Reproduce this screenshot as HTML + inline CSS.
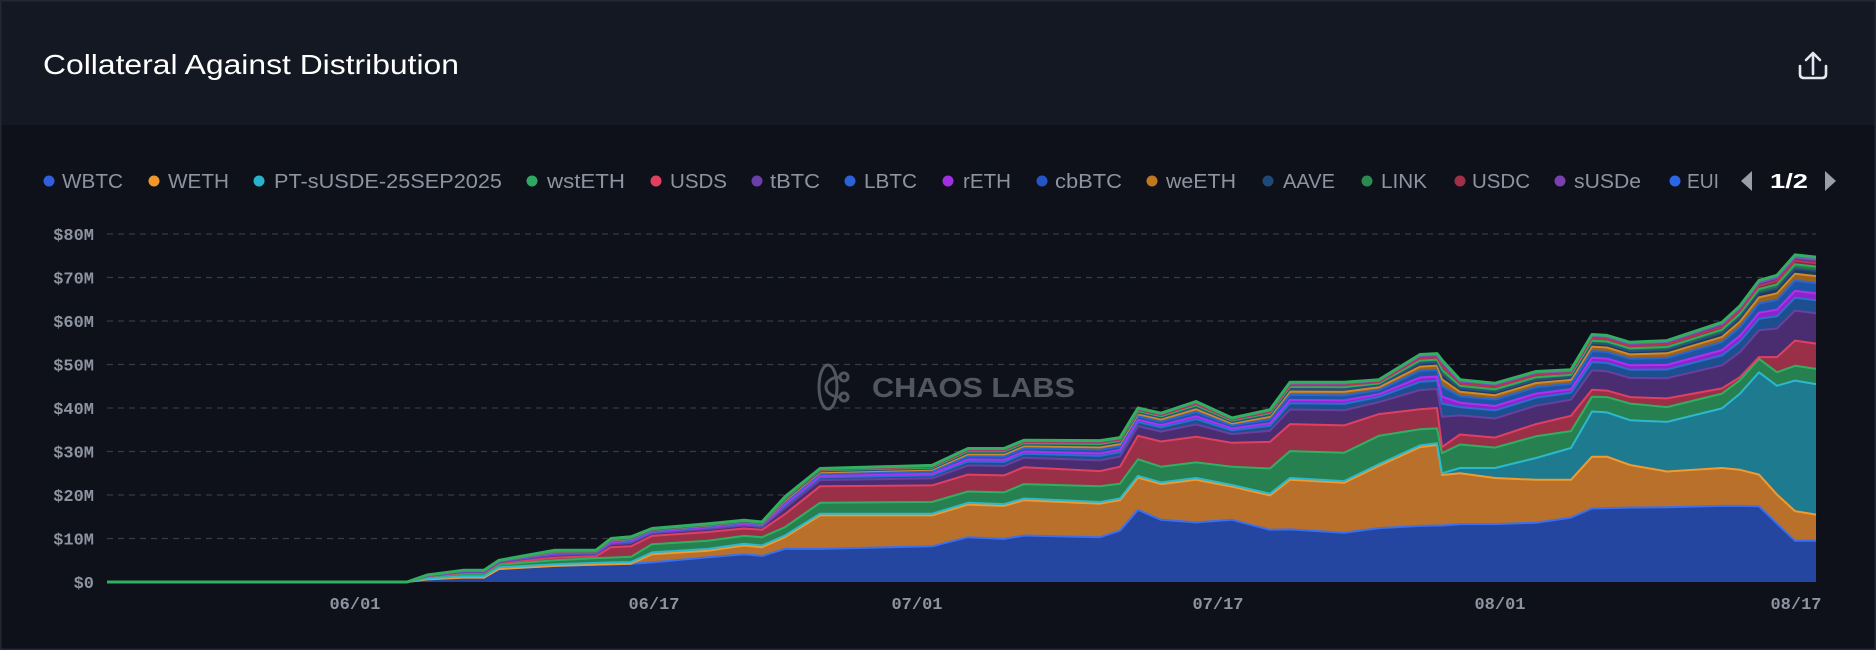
<!DOCTYPE html>
<html><head><meta charset="utf-8"><style>
html,body{margin:0;padding:0;background:#0e1119;}
svg{display:block}
</style></head><body>
<svg id="s" width="1876" height="650" viewBox="0 0 1876 650" xmlns="http://www.w3.org/2000/svg">
<rect x="0" y="0" width="1876" height="650" fill="#0e1119"/>
<rect x="0" y="0" width="1876" height="125" fill="#141822"/>
<rect x="0.5" y="0.5" width="1875" height="649" fill="none" stroke="#232833" stroke-width="2"/>
<text x="43" y="74" font-family="Liberation Sans, sans-serif" font-size="28" fill="#ffffff" textLength="416" lengthAdjust="spacingAndGlyphs">Collateral Against Distribution</text>
<g fill="none" stroke="#e6e8ec" stroke-width="2.6" stroke-linecap="round" stroke-linejoin="round">
<path d="M1813 74 V53 M1806 60 L1813 53 L1820 60"/>
<path d="M1800 66 V74 Q1800 78 1804 78 H1822 Q1826 78 1826 74 V66"/>
</g>
<g id="grid"></g>
<g id="areas"></g>
<g id="legend" font-family="Liberation Sans, sans-serif" font-size="20" fill="#8d93a0"></g>
<g id="ylab" font-family="Liberation Mono, monospace" font-size="17" font-weight="bold" fill="#8d93a0" text-anchor="end"></g>
<g font-family="Liberation Mono, monospace" font-size="17" font-weight="bold" fill="#8d93a0" text-anchor="middle">
<text x="355" y="609">06/01</text><text x="654" y="609">06/17</text><text x="917" y="609">07/01</text>
<text x="1218" y="609">07/17</text><text x="1500" y="609">08/01</text><text x="1796" y="609">08/17</text>
</g>
<g opacity="0.9">
<g fill="none" stroke="#5a5e66" stroke-width="3">
<ellipse cx="828" cy="387" rx="9" ry="22"/>
<path d="M840 377 A14 10 0 1 0 840 397"/>
<circle cx="844" cy="377" r="4"/><circle cx="844" cy="397" r="4"/>
</g>
<text x="872" y="397" font-family="Liberation Sans, sans-serif" font-weight="bold" font-size="28" fill="#5a5e66" textLength="203" lengthAdjust="spacingAndGlyphs">CHAOS LABS</text>
</g>
</svg>
<script>
const NS="http://www.w3.org/2000/svg";
function el(t,a,p,txt){const e=document.createElementNS(NS,t);for(const k in a)e.setAttribute(k,a[k]);if(txt!==undefined)e.textContent=txt;p.appendChild(e);return e;}
const Y0=582,S=4.35; const Y=v=>Y0-v*S;
const grid=document.getElementById('grid'),yl=document.getElementById('ylab');
for(let i=0;i<=8;i++){const y=Y(i*10);
 if(i>0)el('line',{x1:107,x2:1816,y1:y,y2:y,stroke:'#363b46','stroke-width':1.3,'stroke-dasharray':'6 5'},grid);
 el('text',{x:94,y:y+6},yl,'$'+(i*10)+(i?'M':''));}
const D=[
[107,0,0,0,0,0,0],[407,0,0,0,0,0,0],
[427,.6,.6,.8,1.2,1.3,1.6],[463,1,1,1.3,1.9,2.1,2.7],[484,1,1,1.3,1.9,2.1,2.7],
[499,3,3,3.4,4,4.3,5],[555,3.7,3.7,4.1,5,5.6,7.3],[596,4,4,4.4,5.5,5.9,7.3],
[611,4.1,4.1,4.5,5.6,8,10],[631,4.2,4.2,4.6,5.8,8.2,10.4],[652,4.5,6.4,6.8,8.7,10.6,12.3],
[708,5.7,7.2,7.6,9.5,11.5,13.4],[744,6.4,8.4,8.8,10.6,12.3,14.2],[762,6,8,8.4,10.3,12,13.8],
[785,7.6,10.3,10.7,12.6,15.6,19.6],[820,7.6,15.3,15.7,18.2,22,26.1],[932,8.2,15.3,15.7,18.4,22.2,26.8],
[968,10.3,17.8,18.2,20.8,24.7,30.7],[1004,9.9,17.5,17.9,20.6,24.5,30.7],[1024,10.7,18.8,19.2,22.5,26.4,32.6],
[1100,10.3,18,18.4,22,25.5,32.5],[1120,11.8,18.8,19.2,22.6,26.5,33.2],[1138,16.6,24,24.4,28.2,33.6,40],
[1161,14.3,22.5,22.9,26.5,32.3,38.8],[1196,13.7,23.5,23.9,27.5,33.4,41.5],[1232,14.3,21.9,22.3,26.5,32,37.7],
[1270,12,19.9,20.3,26.1,32.2,39.6],[1290,12.1,23.5,23.9,30.1,36.3,45.9],[1344,11.3,22.8,23.2,29.7,36,45.9],
[1379,12.4,26.7,27.1,33.6,38.6,46.5],[1420,12.9,31,31.4,35.1,39.7,52.3],[1437,13,31.5,31.9,35.3,40,52.5],
[1442,13,24.6,25,29.6,31,51],[1460,13.3,25,26.2,31.6,33.9,46.5],[1495,13.3,23.9,26.2,30.9,33.2,45.7],
[1536,13.6,23.5,28.5,33.5,36.3,48.4],[1571,14.8,23.5,30.8,34.7,38.2,48.8],[1592,16.9,28.8,39.2,42.6,44.2,56.9],
[1607,17,28.8,39,42.5,44,56.7],[1630,17.1,26.9,37.2,41,42.5,55.1],[1667,17.2,25.4,36.8,40.2,42.2,55.5],
[1722,17.5,26.2,39.9,43.3,44.5,59.7],[1740,17.5,25.8,43.3,46.4,47.1,63.5],[1759,17.4,24.7,48.2,51.3,51.7,69.3],
[1777,13.4,20.1,45.1,48.2,51.7,70.5],[1795,9.5,16.3,46.3,49.7,55.5,75.2],[1816,9.5,15.5,45.5,49,54.8,74.7]];
const fr=[.35,.15,.08,.12,.08,.06,.05,.04,.04,.03];
const topFill=['#4a2d70','#1d4f8f','#8e24c8','#1d55a6','#9a6220','#1b3a5c','#2a7a4a','#7a2b3e','#5a3a8a','#2a8a55'];
const topLine=['#6a3fa0','#2a6fd0','#b030f0','#2a66d0','#d08a2a','#2a5080','#2fb060','#c03050','#8050c0','#30b060'];
const rows=D.map(r=>{const c=[0,r[1],r[2],r[3],r[4],r[5]];let acc=r[5];const rem=r[6]-r[5];for(const f of fr){acc+=rem*f;c.push(acc);}return c;});
const fills=['#2446a0','#b8702a','#1e7a8e','#27804f','#9a3048'].concat(topFill);
const lines=['#3a6ff0','#f09a30','#2bb8d0','#2fb060','#e04060'].concat(topLine);
const g=document.getElementById('areas');
const nL=rows[0].length-1;
for(let k=1;k<=nL;k++){
 let d='M'+D[0][0]+' '+Y(rows[0][k]);
 for(let i=1;i<D.length;i++)d+=' L'+D[i][0]+' '+Y(rows[i][k]).toFixed(1);
 for(let i=D.length-1;i>=0;i--)d+=' L'+D[i][0]+' '+Y(rows[i][k-1]).toFixed(1);
 el('path',{d:d+'Z',fill:fills[k-1]},g);
}
for(let k=1;k<=nL;k++){
 let d='M'+D[0][0]+' '+Y(rows[0][k]);
 for(let i=1;i<D.length;i++)d+=' L'+D[i][0]+' '+Y(rows[i][k]).toFixed(1);
 el('path',{d:d,fill:'none',stroke:lines[k-1],'stroke-width':k==nL?3:2,'stroke-linejoin':'round'},g);
}
const L=[['WBTC','#2f5fe0',49,62,123],['WETH','#f0962a',154,168,229],['PT-sUSDE-25SEP2025','#28b2cc',259,274,502],['wstETH','#2fa862',532,547,625],['USDS','#e0405e',656,670,727],['tBTC','#6a3fa8',757,770,820],['LBTC','#2a62d8',850,864,917],['rETH','#a030e0',948,963,1011],['cbBTC','#2456c8',1042,1055,1122],['weETH','#c07820',1152,1166,1236],['AAVE','#1e4a7a',1268,1283,1335],['LINK','#2a8a50',1367,1381,1427],['USDC','#a03048',1460,1472,1530],['sUSDe','#7a40b0',1560,1574,1641],['EUI','#2a66e8',1675,1687,1719]];
const lg=document.getElementById('legend');
for(const [t,c,d,a,b] of L){el('circle',{cx:d,cy:181,r:5.5,fill:c},lg);el('text',{x:a,y:188,textLength:b-a,lengthAdjust:'spacingAndGlyphs'},lg,t);}
el('path',{d:'M1752 171 L1752 191 L1741 181Z',fill:'#9a9ea8'},lg);
el('text',{x:1770,y:188,fill:'#ffffff','font-weight':'bold',textLength:38,lengthAdjust:'spacingAndGlyphs'},lg,'1/2');
el('path',{d:'M1825 171 L1825 191 L1836 181Z',fill:'#9a9ea8'},lg);
</script>
</body></html>
